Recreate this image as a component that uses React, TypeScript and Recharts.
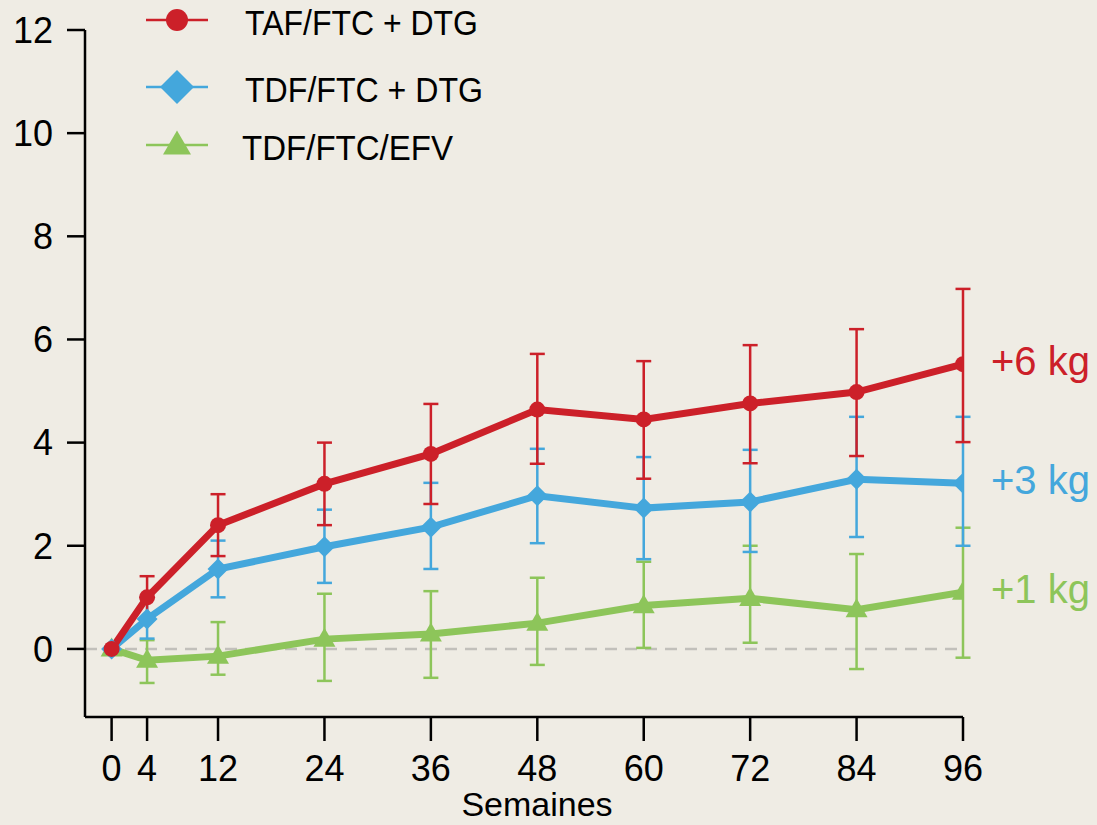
import React from 'react';
import {
  LineChart,
  Line,
  XAxis,
  YAxis,
  ErrorBar,
  ReferenceLine,
  LabelList,
} from 'recharts';

const WEEKS = [0, 4, 12, 24, 36, 48, 60, 72, 84, 96];

// TAF/FTC + DTG
const TAF_MEAN = [0, 1.0, 2.4, 3.2, 3.78, 4.64, 4.45, 4.76, 4.98, 5.52];
const TAF_LOW = [0, 0.6, 1.8, 2.4, 2.81, 3.59, 3.3, 3.6, 3.74, 4.01];
const TAF_HIGH = [0, 1.41, 3.0, 4.0, 4.75, 5.72, 5.58, 5.89, 6.2, 6.98];

// TDF/FTC + DTG
const TDF_DTG_MEAN = [0, 0.58, 1.55, 1.98, 2.36, 2.97, 2.73, 2.85, 3.29, 3.21];
const TDF_DTG_LOW = [0, 0.2, 1.0, 1.28, 1.55, 2.05, 1.74, 1.88, 2.17, 2.0];
const TDF_DTG_HIGH = [0, 1.0, 2.1, 2.7, 3.22, 3.88, 3.72, 3.86, 4.5, 4.5];

// TDF/FTC/EFV
const EFV_MEAN = [0, -0.22, -0.14, 0.19, 0.29, 0.5, 0.84, 0.98, 0.76, 1.1];
const EFV_LOW = [0, -0.66, -0.5, -0.62, -0.56, -0.31, 0.02, 0.12, -0.39, -0.17];
const EFV_HIGH = [0, 0.17, 0.52, 1.07, 1.12, 1.38, 1.69, 2.0, 1.84, 2.35];

const Y_TICKS = [0, 2, 4, 6, 8, 10, 12];
const END_LABELS = { taf: '+6 kg', tdf: '+3 kg', efv: '+1 kg' };

const RED = '#cc2029';
const BLUE = '#44a7dc';
const GREEN = '#8dc55a';
const BG = '#efece4';
const FONT = '"Liberation Sans", Arial, sans-serif';

const data = WEEKS.map((w, i) => ({
  week: w,
  taf: TAF_MEAN[i],
  tafErr: [TAF_MEAN[i] - TAF_LOW[i], TAF_HIGH[i] - TAF_MEAN[i]],
  tdf: TDF_DTG_MEAN[i],
  tdfErr: [TDF_DTG_MEAN[i] - TDF_DTG_LOW[i], TDF_DTG_HIGH[i] - TDF_DTG_MEAN[i]],
  efv: EFV_MEAN[i],
  efvErr: [EFV_MEAN[i] - EFV_LOW[i], EFV_HIGH[i] - EFV_MEAN[i]],
}));

const diamondPath = (cx: number, cy: number, r: number) =>
  `M${cx},${cy - r}L${cx + r},${cy}L${cx},${cy + r}L${cx - r},${cy}Z`;

const trianglePath = (cx: number, cy: number, w: number, h: number) =>
  `M${cx},${cy - h * 0.6}L${cx + w / 2},${cy + h * 0.4}L${cx - w / 2},${cy + h * 0.4}Z`;

const CircleDot = (props: any) => {
  const { cx, cy, index } = props;
  if (cx == null || cy == null) return null;
  return <circle key={`c${index}`} cx={cx} cy={cy} r={8} fill={RED} />;
};

const DiamondDot = (props: any) => {
  const { cx, cy, index } = props;
  if (cx == null || cy == null) return null;
  return <path key={`d${index}`} d={diamondPath(cx, cy, 10.5)} fill={BLUE} />;
};

const TriangleDot = (props: any) => {
  const { cx, cy, index } = props;
  if (cx == null || cy == null) return null;
  return <path key={`t${index}`} d={trianglePath(cx, cy, 22, 19)} fill={GREEN} />;
};

const endLabel = (text: string, color: string) => (props: any) => {
  const { x, y, index } = props;
  if (index !== WEEKS.length - 1) return null;
  return (
    <text
      x={x + 28}
      y={y + 11}
      fill={color}
      fontSize={40}
      fontFamily={FONT}
      textAnchor="start"
    >
      {text}
    </text>
  );
};

// legend drawn at the top left, like the original
const LEGEND_ROWS = [
  { y: 20, color: RED, label: 'TAF/FTC + DTG', tx: 245, w: 233, shape: 'circle' },
  { y: 87, color: BLUE, label: 'TDF/FTC + DTG', tx: 245, w: 238, shape: 'diamond' },
  { y: 145, color: GREEN, label: 'TDF/FTC/EFV', tx: 242, w: 211, shape: 'triangle' },
];

function ChartLegend() {
  return (
    <svg
      width={520}
      height={175}
      style={{ position: 'absolute', left: 0, top: 0, display: 'block' }}
    >
      {LEGEND_ROWS.map((r) => (
        <g key={r.label}>
          <line x1={146} x2={208} y1={r.y} y2={r.y} stroke={r.color} strokeWidth={2.5} />
          {r.shape === 'circle' && <circle cx={177} cy={r.y} r={11} fill={r.color} />}
          {r.shape === 'diamond' && <path d={diamondPath(177, r.y, 17)} fill={r.color} />}
          {r.shape === 'triangle' && <path d={trianglePath(177, r.y, 28, 24)} fill={r.color} />}
          <text
            x={r.tx}
            y={r.y + 15}
            fontSize={35}
            fontFamily={FONT}
            fill="#000"
            textLength={r.w}
            lengthAdjust="spacingAndGlyphs"
          >
            {r.label}
          </text>
        </g>
      ))}
    </svg>
  );
}

export default function App() {
  return (
    <div
      style={{
        position: 'absolute',
        left: 0,
        top: 0,
        width: 1097,
        height: 825,
        background: BG,
        fontFamily: FONT,
      }}
    >
      <LineChart
        width={1097}
        height={825}
        data={data}
        margin={{ top: 30, right: 134, bottom: 0, left: 0 }}
      >
        <XAxis
          dataKey="week"
          type="number"
          domain={[-3, 96]}
          ticks={WEEKS}
          allowDataOverflow
          height={108}
          tickSize={24}
          tickMargin={14}
          axisLine={{ stroke: '#000', strokeWidth: 2.5 }}
          tickLine={{ stroke: '#000', strokeWidth: 2.5 }}
          tick={{ fill: '#000', fontSize: 36, fontFamily: FONT }}
          label={{
            value: 'Semaines',
            position: 'insideBottom',
            offset: 9,
            dx: 13,
            fill: '#000',
            fontSize: 34,
            fontFamily: FONT,
          }}
        />
        <YAxis
          type="number"
          domain={[-1.32, 12]}
          ticks={Y_TICKS}
          allowDataOverflow
          width={85}
          tickSize={18}
          tickMargin={14}
          axisLine={{ stroke: '#000', strokeWidth: 2.5 }}
          tickLine={{ stroke: '#000', strokeWidth: 2.5 }}
          tick={{ fill: '#000', fontSize: 36, fontFamily: FONT }}
        />
        <ReferenceLine y={0} stroke="#c2c0bb" strokeWidth={2.5} strokeDasharray="12 8" />
        <Line
          dataKey="efv"
          stroke={GREEN}
          strokeWidth={7}
          dot={TriangleDot}
          activeDot={false}
          isAnimationActive={false}
        >
          <ErrorBar dataKey="efvErr" width={7.5} strokeWidth={2.5} stroke={GREEN} />
          <LabelList dataKey="efv" content={endLabel(END_LABELS.efv, GREEN)} />
        </Line>
        <Line
          dataKey="tdf"
          stroke={BLUE}
          strokeWidth={7}
          dot={DiamondDot}
          activeDot={false}
          isAnimationActive={false}
        >
          <ErrorBar dataKey="tdfErr" width={7.5} strokeWidth={2.5} stroke={BLUE} />
          <LabelList dataKey="tdf" content={endLabel(END_LABELS.tdf, BLUE)} />
        </Line>
        <Line
          dataKey="taf"
          stroke={RED}
          strokeWidth={7}
          dot={CircleDot}
          activeDot={false}
          isAnimationActive={false}
        >
          <ErrorBar dataKey="tafErr" width={7.5} strokeWidth={2.5} stroke={RED} />
          <LabelList dataKey="taf" content={endLabel(END_LABELS.taf, RED)} />
        </Line>
      </LineChart>
      <ChartLegend />
    </div>
  );
}
